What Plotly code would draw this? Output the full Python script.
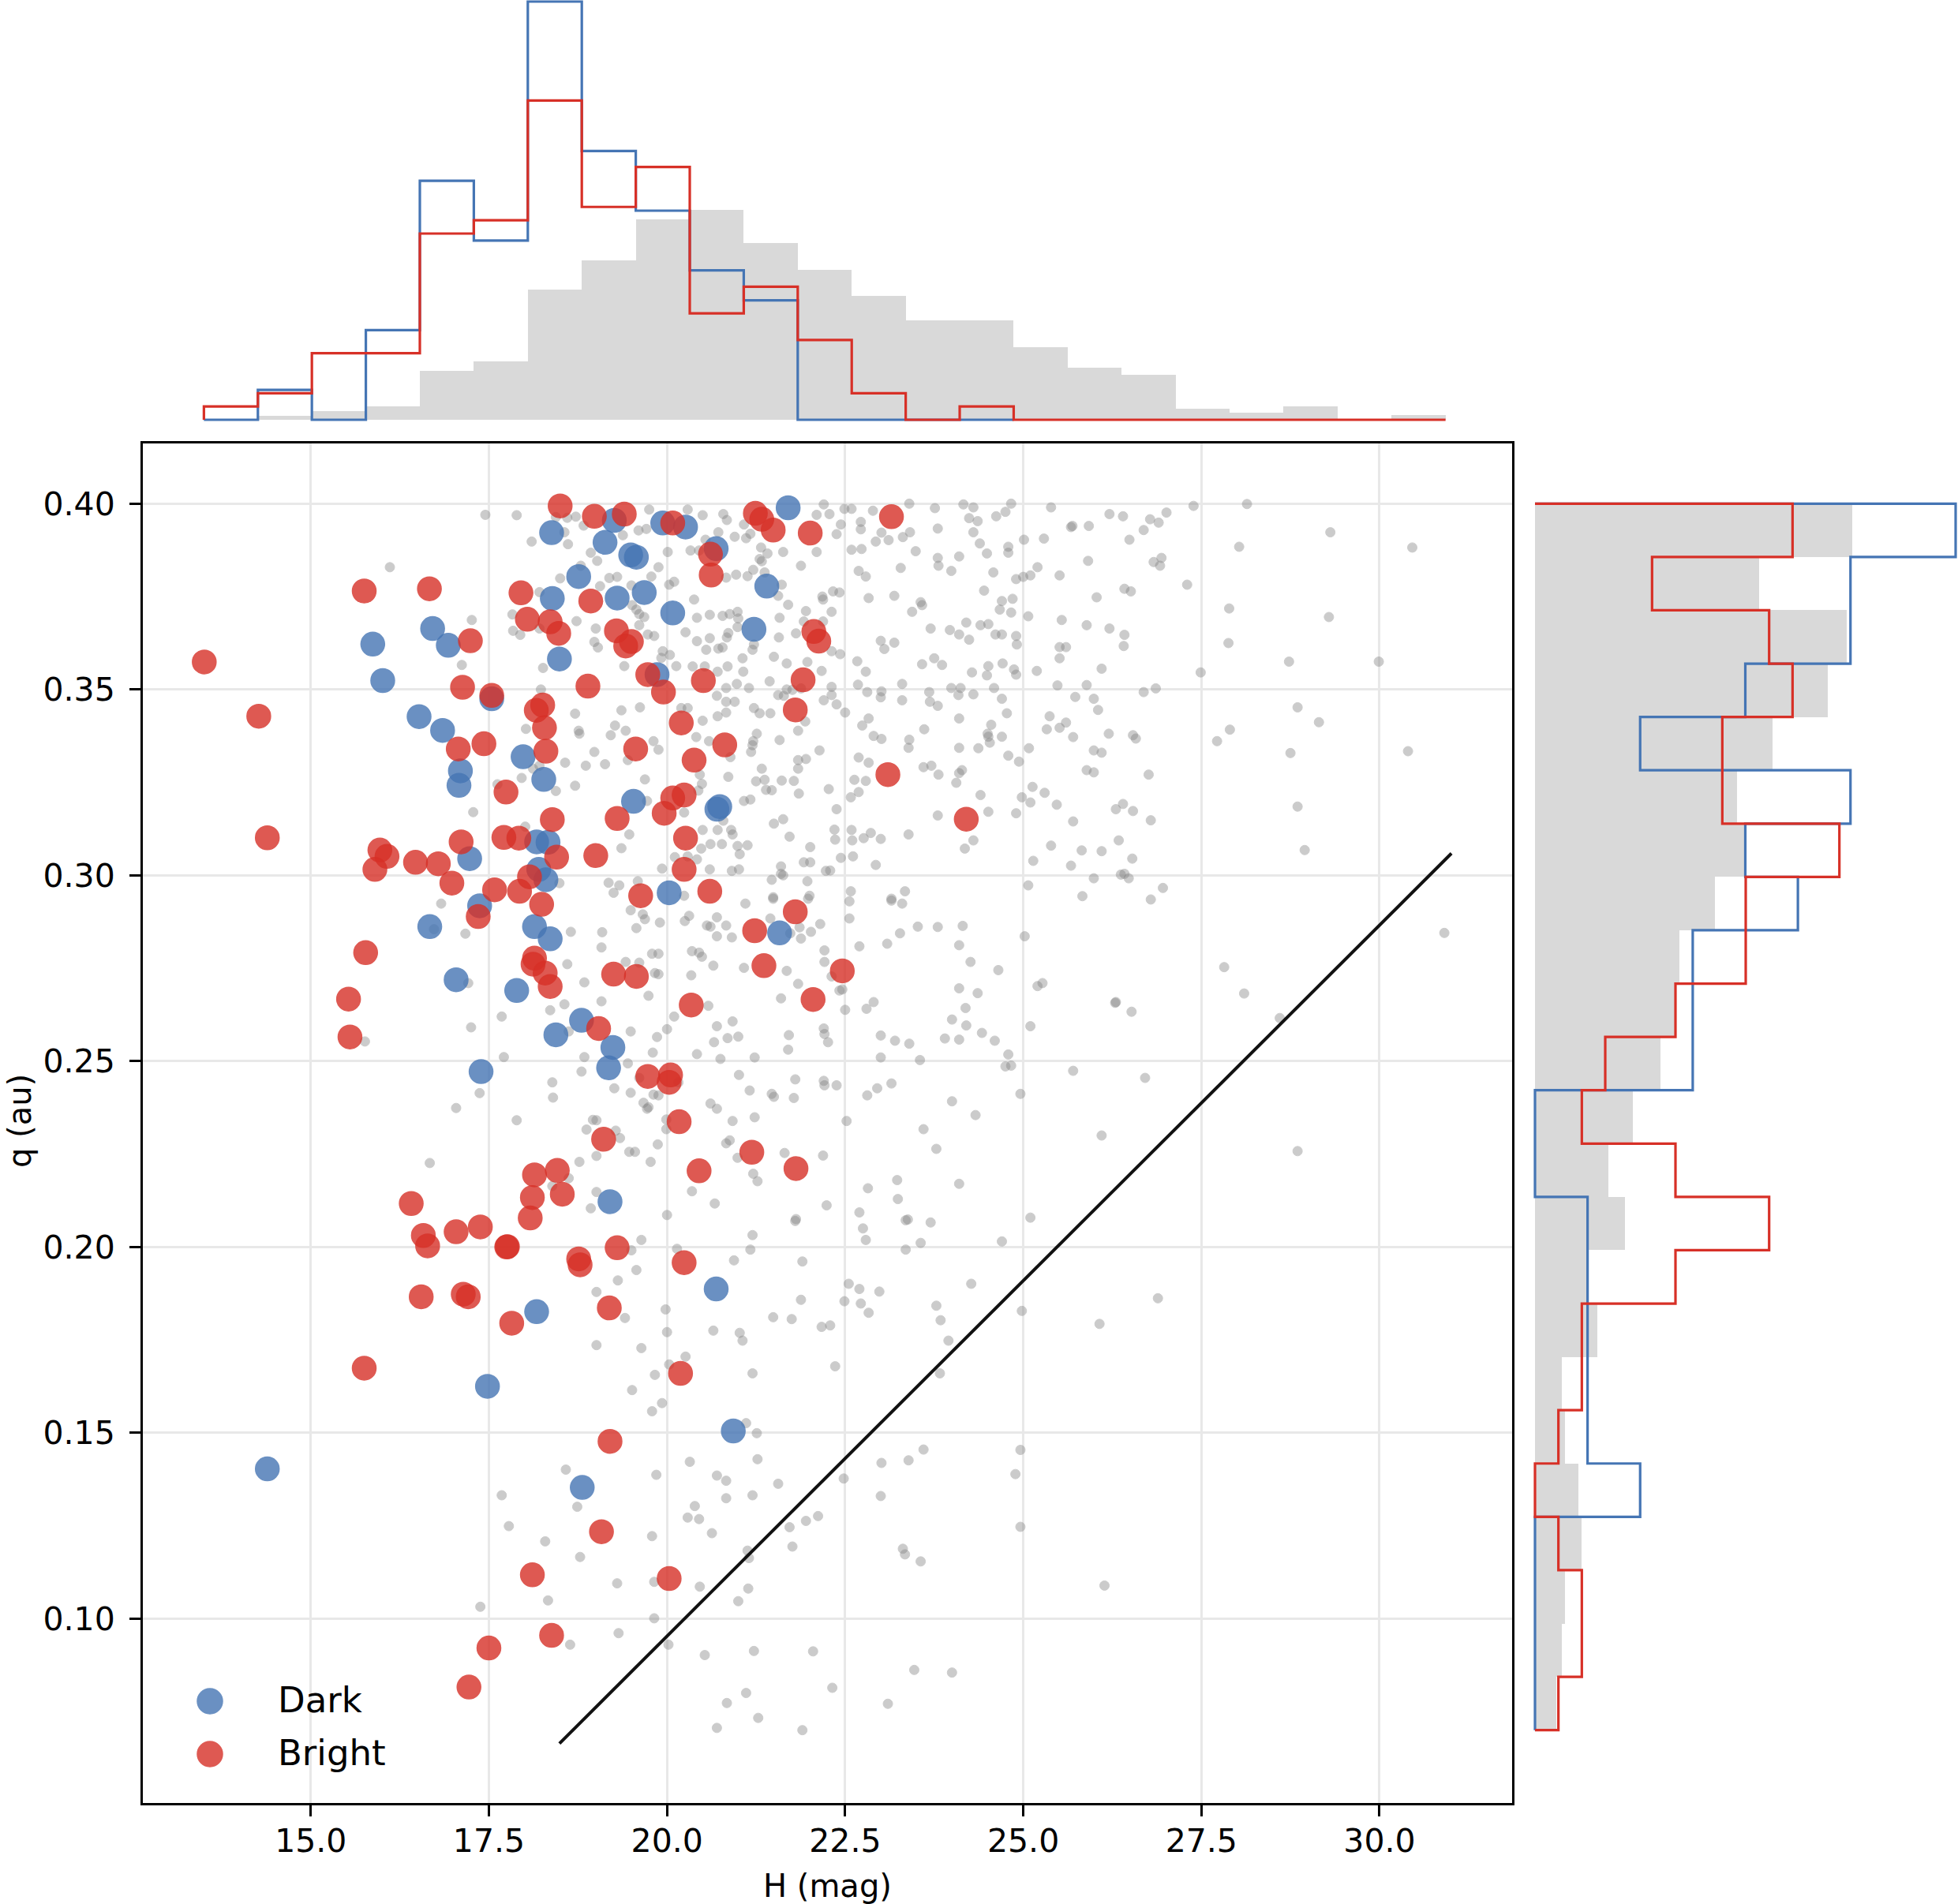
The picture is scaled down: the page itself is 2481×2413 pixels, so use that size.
import numpy as np
import plotly.graph_objects as go

W, HT = 2481, 2413
BLUE, RED, GREY, BAR = "#4575b4", "#d73027", "#808080", "#d9d9d9"
FONT = "DejaVu Sans"

# ---------------- data (H in mag, q in au) ----------------
dark_points = [
    (18.38, 0.3922), (19.13, 0.3896), (18.76, 0.3804), (18.39, 0.3745), (16.71, 0.3664), (16.93, 0.3619),
    (15.87, 0.3622), (16.01, 0.3524), (18.49, 0.3582), (17.54, 0.3475), (16.52, 0.3427), (16.85, 0.3390),
    (17.98, 0.3319), (18.27, 0.3258), (17.10, 0.3281), (17.08, 0.3242), (18.17, 0.3090), (18.33, 0.3089),
    (17.23, 0.3045), (18.20, 0.3016), (18.30, 0.2988), (19.26, 0.3955), (19.94, 0.3948), (20.26, 0.3937),
    (21.70, 0.3989), (20.69, 0.3879), (19.49, 0.3862), (19.57, 0.3856), (19.30, 0.3746), (19.68, 0.3761),
    (21.40, 0.3778), (20.08, 0.3706), (21.22, 0.3662), (19.86, 0.3540), (19.53, 0.3199), (20.70, 0.3178),
    (20.74, 0.3185), (20.03, 0.2953), (17.37, 0.2918), (16.67, 0.2862), (18.14, 0.2862), (18.36, 0.2829),
    (17.04, 0.2719), (17.89, 0.2690), (18.80, 0.2610), (18.44, 0.2571), (17.39, 0.2472), (18.17, 0.1826),
    (21.58, 0.2845), (19.24, 0.2537), (19.18, 0.2482), (19.20, 0.2122), (20.69, 0.1887), (14.39, 0.1403),
    (17.48, 0.1625), (18.81, 0.1353), (20.93, 0.1505),
]

bright_points = [
    (18.50, 0.3994), (18.98, 0.3966), (15.75, 0.3765), (16.665, 0.3771), (17.95, 0.3760), (18.93, 0.3738),
    (18.04, 0.3689), (18.36, 0.3682), (18.48, 0.3651), (17.24, 0.3631), (13.505, 0.3574), (17.13, 0.3506),
    (17.54, 0.3484), (18.89, 0.3509), (18.255, 0.3458), (18.165, 0.3444), (18.28, 0.3397), (14.27, 0.3428),
    (17.07, 0.3340), (17.43, 0.3354), (18.30, 0.3334), (17.74, 0.3224), (18.39, 0.3150), (14.39, 0.3101),
    (15.97, 0.3068), (16.07, 0.3051), (15.90, 0.3016), (16.47, 0.3035), (16.79, 0.3031), (17.11, 0.3090),
    (17.71, 0.3102), (17.92, 0.3100), (18.45, 0.3049), (19.00, 0.3053), (16.98, 0.2979), (17.58, 0.2961),
    (17.93, 0.2957), (18.07, 0.2996), (19.40, 0.3972), (20.08, 0.3948), (21.24, 0.3974), (21.33, 0.3958),
    (21.49, 0.3929), (22.01, 0.3921), (23.15, 0.3965), (20.61, 0.3864), (20.62, 0.3808), (19.29, 0.3658),
    (19.50, 0.3629), (19.42, 0.3617), (19.73, 0.3540), (19.95, 0.3493), (20.51, 0.3524), (22.06, 0.3656),
    (22.13, 0.3630), (21.91, 0.3526), (21.80, 0.3445), (20.20, 0.3410), (19.56, 0.3340), (20.81, 0.3351),
    (20.38, 0.3310), (23.10, 0.3271), (20.08, 0.3208), (20.24, 0.3216), (19.30, 0.3153), (19.96, 0.3167),
    (24.20, 0.3151), (20.26, 0.3100), (20.24, 0.3016), (19.63, 0.2945), (20.60, 0.2957), (18.24, 0.2922),
    (17.35, 0.2889), (15.77, 0.2792), (18.14, 0.2777), (18.12, 0.2761), (18.29, 0.2737), (18.36, 0.2701),
    (15.53, 0.2667), (15.55, 0.2565), (19.04, 0.2588), (18.14, 0.2194), (18.46, 0.2206), (18.11, 0.2133),
    (18.53, 0.2142), (18.08, 0.2078), (16.41, 0.2117), (16.58, 0.2031), (16.64, 0.2003), (17.04, 0.2041),
    (17.38, 0.2054), (17.76, 0.2001), (17.75, 0.2000), (18.76, 0.1968), (18.78, 0.1952), (16.55, 0.1866),
    (17.14, 0.1873), (17.21, 0.1866), (17.82, 0.1795), (21.80, 0.2902), (21.23, 0.2851), (21.36, 0.2757),
    (22.46, 0.2743), (22.05, 0.2666), (19.25, 0.2734), (19.57, 0.2728), (20.34, 0.2651), (19.73, 0.2459),
    (20.05, 0.2463), (20.03, 0.2443), (19.11, 0.2290), (20.17, 0.2337), (21.19, 0.2255), (20.45, 0.2205),
    (21.81, 0.2211), (19.30, 0.1998), (20.24, 0.1958), (19.19, 0.1836), (15.75, 0.1674), (17.50, 0.0921),
    (17.22, 0.0816), (18.11, 0.1118), (18.38, 0.0955), (20.19, 0.1660), (19.20, 0.1477), (19.08, 0.1234),
    (20.03, 0.1108),
]

grey_points = [
    (17.45,0.3970),(17.89,0.3969),(18.10,0.3898),(18.61,0.3891),(18.44,0.3964),(18.60,0.3962),(18.72,0.3965),(18.83,0.3941),(18.56,0.3923),(16.11,0.3829),(18.93,0.3868),(19.02,0.3846),(18.79,0.3833),(18.50,0.3799),(18.21,0.3762),(17.26,0.3687),(17.83,0.3702),(17.84,0.3658),(17.94,0.3647),(18.21,0.3664),(18.73,0.3684),(19.00,0.3664),(18.98,0.3628),(19.03,0.3613),(17.12,0.3566),(18.26,0.3558),(18.23,0.3500),(18.71,0.3435),(18.02,0.3394),(18.76,0.3389),(18.77,0.3381),(18.98,0.3332),(18.86,0.3295),(18.57,0.3303),(18.12,0.3287),(18.21,0.3295),(17.96,0.3262),(17.62,0.3245),(18.44,0.3227),(18.71,0.3241),(17.28,0.3170),(18.01,0.3131),(18.49,0.2979),
    (19.75,0.3984),(20.29,0.3984),(20.50,0.3969),(20.79,0.3972),(20.84,0.3956),(21.08,0.3944),(22.20,0.3998),(22.10,0.3970),(22.28,0.3972),(22.49,0.3986),(22.59,0.3986),(22.89,0.3981),(23.40,0.4000),(23.76,0.3988),(24.16,0.3998),(24.30,0.3990),(24.24,0.3961),(24.36,0.3953),(24.62,0.3966),(24.75,0.3978),(24.83,0.4000),(25.39,0.3990),
    (19.60,0.3928),(19.71,0.3932),(19.38,0.3915),(20.54,0.3903),(20.72,0.3923),(20.95,0.3911),(21.11,0.3907),(21.17,0.3919),(22.44,0.3944),(22.72,0.3951),(22.72,0.3931),(22.38,0.3918),(22.93,0.3898),(23.01,0.3922),(23.11,0.3902),(23.31,0.3910),(23.41,0.3923),(23.80,0.3933),(24.30,0.3923),(25.01,0.3903),(25.29,0.3906),
    (20.01,0.3870),(20.33,0.3874),(20.45,0.3874),(21.32,0.3882),(21.41,0.3866),(21.63,0.3870),(22.10,0.3870),(22.59,0.3876),(22.73,0.3878),(23.49,0.3872),(24.39,0.3893),(24.49,0.3866),(24.79,0.3884),(24.79,0.3868),(23.80,0.3854),(24.10,0.3858),
    (21.30,0.3851),(21.33,0.3845),(19.88,0.3829),(19.78,0.3804),(21.21,0.3822),(20.97,0.3809),(21.13,0.3805),(20.83,0.3801),(21.37,0.3815),(19.19,0.3800),(19.30,0.3803),(21.88,0.3833),(22.69,0.3819),(22.79,0.3804),(23.28,0.3827),(23.81,0.3833),(23.99,0.3819),(24.58,0.3815),(24.90,0.3797),(25.00,0.3803),(25.10,0.3807),(25.20,0.3829),
    (19.06,0.3778),(20.03,0.3782),(20.10,0.3790),(19.50,0.3780),(21.61,0.3782),(21.56,0.3752),(21.70,0.3728),(22.18,0.3750),(22.19,0.3742),(22.33,0.3764),(22.42,0.3761),(22.83,0.3746),(23.19,0.3752),(23.56,0.3735),(23.58,0.3727),(24.45,0.3766),(24.85,0.3744),(24.70,0.3738),
    (19.51,0.3727),(19.57,0.3715),(19.61,0.3703),(19.68,0.3695),(20.38,0.3742),(20.42,0.3693),(20.60,0.3701),(20.78,0.3698),(20.88,0.3703),(20.99,0.3709),(21.00,0.3691),(21.58,0.3693),(21.95,0.3711),(22.31,0.3709),(23.44,0.3709),(24.67,0.3715),(24.83,0.3707),(25.07,0.3697),
    (19.61,0.3673),(19.73,0.3648),(19.82,0.3644),(20.26,0.3654),(20.42,0.3630),(20.60,0.3638),(20.86,0.3652),(20.84,0.3640),(20.99,0.3668),(20.78,0.3613),(20.72,0.3610),(20.55,0.3607),(21.57,0.3640),(21.81,0.3651),(21.92,0.3683),(22.19,0.3683),(23.00,0.3631),(23.05,0.3609),(23.19,0.3626),(23.70,0.3664),(23.97,0.3660),(24.10,0.3648),(24.20,0.3680),(24.24,0.3634),(24.40,0.3673),(24.51,0.3676),(24.61,0.3648),(24.70,0.3648),(24.90,0.3644),(24.91,0.3621),
    (19.94,0.3603),(19.92,0.3585),(20.04,0.3593),(19.40,0.3563),(20.13,0.3563),(20.36,0.3562),(20.53,0.3562),(20.71,0.3548),(20.85,0.3562),(21.06,0.3584),(21.07,0.3548),(21.20,0.3607),(21.22,0.3621),(21.50,0.3588),(21.68,0.3570),(21.97,0.3574),(22.17,0.3550),(22.31,0.3603),(22.43,0.3595),(22.67,0.3576),(22.79,0.3548),(23.58,0.3568),(23.75,0.3584),(23.86,0.3566),(24.28,0.3546),(24.51,0.3563),(24.49,0.3538),(24.71,0.3570),(24.87,0.3554),(24.90,0.3540),(25.19,0.3550),
    (20.70,0.3483),(20.83,0.3504),(20.98,0.3515),(21.15,0.3504),(21.44,0.3522),(21.56,0.3485),(21.64,0.3483),(21.68,0.3500),(21.76,0.3499),(21.88,0.3503),(22.20,0.3471),(22.31,0.3507),(22.31,0.3485),(22.68,0.3513),(22.81,0.3493),(23.01,0.3495),(23.00,0.3479),(23.30,0.3515),(23.30,0.3471),(23.68,0.3493),(23.69,0.3467),(23.80,0.3456),(23.99,0.3504),(24.09,0.3485),(24.12,0.3504),(24.30,0.3487),(24.59,0.3504),(24.70,0.3475),(25.48,0.3511),
    (19.36,0.3444),(19.62,0.3452),(19.27,0.3403),(19.42,0.3389),(20.20,0.3450),(20.29,0.3450),(20.50,0.3416),(20.83,0.3467),(20.95,0.3467),(20.71,0.3428),(20.83,0.3438),(21.22,0.3450),(21.30,0.3436),(21.45,0.3436),(21.94,0.3414),(21.84,0.3389),(22.38,0.3460),(22.50,0.3438),(22.74,0.3403),(22.83,0.3422),(23.61,0.3393),(24.10,0.3422),(24.55,0.3405),(24.50,0.3381),(24.77,0.3436),(25.33,0.3393),(25.37,0.3428),
    (19.21,0.3377),(19.81,0.3361),(19.88,0.3338),(20.41,0.3372),(20.59,0.3361),(20.89,0.3318),(21.18,0.3332),(21.20,0.3350),(21.21,0.3361),(21.26,0.3381),(21.58,0.3364),(21.84,0.3310),(21.95,0.3313),(22.14,0.3336),(22.90,0.3375),(23.01,0.3367),(22.69,0.3317),(22.83,0.3303),(23.40,0.3365),(23.39,0.3343),(24.10,0.3343),(24.37,0.3342),(24.53,0.3357),(24.51,0.3373),(24.70,0.3373),(24.79,0.3322),(24.94,0.3306),(25.08,0.3342),(19.13,0.3299),(19.45,0.3310),
    (19.69,0.3258),(20.46,0.3271),(20.49,0.3246),(20.86,0.3265),(21.25,0.3253),(21.33,0.3287),(21.37,0.3257),(21.61,0.3255),(21.78,0.3254),(21.84,0.3287),(21.39,0.3230),(21.47,0.3229),(22.27,0.3232),(22.63,0.3257),(22.79,0.3254),(22.58,0.3210),(22.69,0.3224),(23.60,0.3291),(23.71,0.3295),(23.81,0.3271),(24.06,0.3249),(24.14,0.3283),(24.10,0.3275),(25.13,0.3238),(25.30,0.3222),(24.98,0.3210),(25.10,0.3196),
    (19.72,0.3200),(20.24,0.3169),(20.44,0.3228),(20.79,0.3147),(21.08,0.3200),(21.17,0.3204),(21.85,0.3220),(22.38,0.3178),(23.80,0.3161),(24.40,0.3216),(24.51,0.3171),(24.90,0.3167),(25.47,0.3190),
    (19.47,0.3110),(19.36,0.3073),(20.50,0.3122),(20.71,0.3122),(20.90,0.3122),(20.92,0.3110),(20.48,0.3072),(20.61,0.3084),(20.77,0.3084),(20.99,0.3079),(21.13,0.3081),(21.50,0.3139),(21.63,0.3151),(21.72,0.3104),(22.01,0.3076),(22.35,0.3123),(22.36,0.3096),(22.59,0.3122),(22.60,0.3094),(22.76,0.3100),(22.86,0.3114),(23.00,0.3098),(23.39,0.3110),(24.18,0.3072),(24.30,0.3094),(25.39,0.3080),
    (19.93,0.3018),(20.11,0.3049),(20.29,0.3051),(20.42,0.3043),(20.60,0.3016),(20.91,0.3012),(21.01,0.3016),(21.02,0.3057),(21.60,0.3024),(21.60,0.3004),(21.92,0.3035),(22.01,0.3035),(22.23,0.3012),(22.29,0.3013),(22.44,0.3047),(22.61,0.3051),(22.93,0.3028),(25.14,0.3039),
    (19.18,0.2980),(19.33,0.2973),(19.25,0.2953),(19.59,0.2984),(20.24,0.2945),(21.47,0.2988),(21.63,0.3000),(21.97,0.2984),(21.49,0.2941),(22.00,0.2945),(22.58,0.2957),(23.34,0.2957),(25.07,0.2973),(23.15,0.2937),
    (25.67,0.3937),(25.69,0.3940),(25.92,0.3940),(26.21,0.3972),(26.40,0.3966),(26.78,0.3958),(26.90,0.3949),(27.01,0.3976),(26.69,0.3929),(26.49,0.3903),(27.39,0.3994),(28.14,0.3999),(29.31,0.3923),(28.03,0.3884),(30.46,0.3882),(25.91,0.3846),(26.83,0.3843),(26.94,0.3854),(26.92,0.3833),(25.51,0.3807),(27.30,0.3782),(26.42,0.3771),(26.51,0.3764),(26.03,0.3748),(27.89,0.3718),(29.29,0.3695),(25.54,0.3687),(25.89,0.3673),(26.21,0.3664),(26.42,0.3647),(26.41,0.3617),(25.51,0.3614),(25.60,0.3614),(27.88,0.3625),(25.51,0.3584),(26.10,0.3556),(28.73,0.3575),(29.99,0.3575),(27.49,0.3546),(25.89,0.3512),(25.73,0.3480),(25.99,0.3475),(26.05,0.3445),(26.69,0.3493),(26.86,0.3503),(28.85,0.3452),(29.15,0.3412),(25.60,0.3411),(25.51,0.3397),(25.70,0.3372),(26.20,0.3381),(26.54,0.3377),(26.58,0.3368),(27.90,0.3392),(27.72,0.3361),(28.75,0.3329),(30.40,0.3334),(25.99,0.3336),(26.10,0.3330),(25.89,0.3283),(25.99,0.3277),(26.76,0.3271),(26.30,0.3178),(26.40,0.3192),(26.54,0.3173),(25.70,0.3145),(26.79,0.3148),(28.85,0.3185),(26.34,0.3094),(25.82,0.3067),(26.10,0.3065),(26.53,0.3045),(25.67,0.3026),(28.95,0.3068),(25.99,0.2992),(26.37,0.3002),(26.42,0.3004),(26.48,0.2992),(26.96,0.2966),(25.83,0.2944),(26.79,0.2935),
    (16.83,0.2924),(17.17,0.2843),(16.73,0.2855),(18.65,0.2848),(18.60,0.2761),(18.84,0.2712),(17.21,0.2710),(18.56,0.2653),(18.36,0.2637),(17.68,0.2620),(17.25,0.2591),(18.62,0.2580),(15.76,0.2553),(17.71,0.2511),(18.84,0.2511),(18.80,0.2472),(18.39,0.2443),(18.40,0.2402),(17.37,0.2414),(17.04,0.2374),(17.89,0.2341),(18.96,0.2342),(19.01,0.2341),(18.87,0.2316),(19.01,0.2245),(16.67,0.2226),(18.77,0.2229),(18.62,0.2185),(18.39,0.2164),(19.01,0.2148),(18.93,0.2104),(19.01,0.1879),(19.01,0.1736),
    (21.10,0.2924),(21.49,0.2937),(21.98,0.2937),(22.56,0.2930),(22.56,0.2884),(23.15,0.2932),(23.30,0.2924),(19.49,0.2906),(19.66,0.2895),(19.69,0.2882),(19.57,0.2858),(19.90,0.2873),(20.25,0.2877),(20.31,0.2891),(20.70,0.2887),(20.56,0.2865),(20.61,0.2862),(20.83,0.2865),(20.70,0.2836),(20.91,0.2833),(21.45,0.2884),(21.86,0.2860),(21.88,0.2830),(22.02,0.2848),(22.15,0.2869),(21.73,0.2844),(19.09,0.2847),(19.08,0.2806),(19.79,0.2789),(19.88,0.2789),(19.42,0.2767),(19.61,0.2765),(19.83,0.2737),(19.88,0.2734),(20.35,0.2796),(20.45,0.2792),(20.49,0.2781),(20.65,0.2757),(20.34,0.2731),(21.08,0.2751),(21.68,0.2743),(21.84,0.2708),(22.21,0.2798),(22.21,0.2767),(22.31,0.2728),(22.42,0.2690),(22.46,0.2693),(22.50,0.2638),(22.70,0.2809),(23.09,0.2816),(23.27,0.2844),(23.52,0.2862),(23.80,0.2861),(24.15,0.2864),(24.10,0.2812),(24.26,0.2767),(24.65,0.2745),(24.10,0.2696),(24.36,0.2683),(24.19,0.2643),(25.02,0.2836),(25.20,0.2702),(25.27,0.2710),(22.80,0.2641),(22.90,0.2659),(19.08,0.2661),(19.74,0.2676),(20.58,0.2649),(21.60,0.2669),(24.00,0.2612),(24.20,0.2596),(23.90,0.2561),(24.10,0.2558),(24.42,0.2576),(24.60,0.2555),(25.10,0.2594),(23.00,0.2569),(23.20,0.2555),(23.40,0.2547),(23.00,0.2510),(23.55,0.2503),(24.79,0.2518),(24.75,0.2486),(24.83,0.2488),
    (19.49,0.2580),(19.86,0.2565),(20.00,0.2586),(20.10,0.2620),(20.70,0.2594),(20.92,0.2607),(20.85,0.2562),(21.00,0.2566),(20.66,0.2551),(20.42,0.2519),(20.75,0.2506),(21.23,0.2510),(21.71,0.2570),(21.70,0.2531),(22.20,0.2588),(22.21,0.2573),(22.26,0.2551),(19.80,0.2523),(19.45,0.2494),(19.26,0.2427),(19.49,0.2415),(19.61,0.2455),(19.81,0.2410),(19.88,0.2408),(20.16,0.2443),(19.67,0.2388),(19.74,0.2376),(19.72,0.2372),(21.01,0.2463),(21.16,0.2421),(21.47,0.2412),(21.50,0.2404),(21.78,0.2401),(21.80,0.2451),(22.20,0.2447),(22.21,0.2435),(22.38,0.2435),(22.81,0.2408),(22.95,0.2427),(23.15,0.2440),(24.00,0.2392),(24.33,0.2355),(24.96,0.2412),(20.61,0.2386),(20.70,0.2372),(20.92,0.2339),(21.23,0.2349),(19.99,0.2343),(19.99,0.2317),(19.28,0.2313),(19.34,0.2293),(19.47,0.2256),(19.55,0.2256),(19.77,0.2229),(19.87,0.2276),(20.83,0.2279),(20.88,0.2287),(20.99,0.2240),(21.21,0.2197),(21.27,0.2177),(21.65,0.2253),(22.19,0.2246),(22.52,0.2339),(23.60,0.2317),(23.78,0.2264),(22.82,0.2158),(23.23,0.2180),(23.24,0.2129),(24.10,0.2170),(20.35,0.2150),(20.67,0.2117),(20.00,0.2086),(22.24,0.2112),(22.70,0.2093),(22.75,0.2050),(22.79,0.2019),(21.80,0.2070),(21.81,0.2075),(23.35,0.2072),(23.38,0.2074),(23.70,0.2066),(25.10,0.2079),(21.20,0.2032),(21.17,0.1993),(19.64,0.2019),(19.50,0.1991),(20.14,0.1995),(20.94,0.1964),(21.90,0.1961),(23.35,0.1993),(23.56,0.2011),(24.70,0.2015),(19.57,0.1938),(19.31,0.1910),(22.55,0.1901),(22.70,0.1887),(22.98,0.1880),(22.49,0.1854),(22.72,0.1848),(22.83,0.1823),(21.88,0.1858),(24.27,0.1901),(23.78,0.1842),(23.84,0.1803),(24.98,0.1828),(19.41,0.1809),(19.98,0.1832),(20.00,0.1771),(20.65,0.1775),(21.02,0.1769),(21.06,0.1748),(21.49,0.1811),(21.75,0.1806),(22.17,0.1785),(22.29,0.1789),(19.64,0.1728),(23.95,0.1748),
    (30.91,0.2845),(27.82,0.2753),(28.10,0.2682),(26.29,0.2657),(26.30,0.2659),(26.52,0.2633),(28.60,0.2616),(25.70,0.2474),(26.71,0.2455),(26.10,0.2300),(28.85,0.2258),(26.89,0.1862),(26.07,0.1793),
    (18.58,0.1401),(17.68,0.1332),(18.74,0.1301),(17.78,0.1249),(18.29,0.1208),(18.78,0.1166),(18.33,0.1049),(17.38,0.1032),(18.64,0.0930),
    (20.26,0.1705),(20.03,0.1684),(19.83,0.1656),(21.20,0.1660),(22.36,0.1679),(23.83,0.1660),(19.51,0.1615),(19.93,0.1580),(19.79,0.1558),(21.11,0.1526),(21.26,0.1499),(20.32,0.1422),(21.27,0.1429),(19.85,0.1387),(20.70,0.1385),(20.83,0.1371),(20.83,0.1324),(21.20,0.1332),(21.56,0.1363),(20.39,0.1303),(20.29,0.1272),(20.45,0.1268),(20.63,0.1230),(19.79,0.1222),(21.72,0.1246),(21.95,0.1263),(22.12,0.1276),(21.76,0.1194),(21.13,0.1183),(21.15,0.1163),(22.48,0.1377),(23.01,0.1419),(23.39,0.1426),(23.60,0.1455),(23.00,0.1330),(24.96,0.1454),(24.89,0.1389),(24.96,0.1247),(23.31,0.1188),(23.34,0.1173),(23.56,0.1154),(19.30,0.1095),(19.82,0.1099),(20.46,0.1086),(21.14,0.1081),(21.00,0.1047),(19.82,0.1001),(19.32,0.0961),(20.02,0.0930),(20.53,0.0902),(21.22,0.0913),(22.05,0.0912),(23.47,0.0862),(24.00,0.0855),(22.32,0.0814),(21.11,0.0800),(20.84,0.0773),(21.28,0.0733),(20.70,0.0706),(21.90,0.0700),(23.10,0.0771),
    (26.14,0.1089),
]

# reference line
line_H = [18.49, 31.01]
line_q = [0.0664, 0.3059]

# marginal histograms (23 bins each)
H_bin_range = (13.5, 30.927)
q_bin_range = (0.07, 0.40)
dark_H_counts = [0, 1, 0, 3, 8, 6, 14, 9, 7, 5, 4, 0, 0, 0, 0]
bright_H_counts = [1, 2, 5, 5, 14, 15, 24, 16, 19, 8, 10, 6, 2, 0, 1, 0, 0, 0, 0, 0, 0, 0, 0]
all_H_density = [0.0, 0.0032, 0.0068, 0.0104, 0.0382, 0.0455, 0.1011, 0.1238, 0.1551, 0.1625, 0.1372,
                 0.1164, 0.0962, 0.0769, 0.0769, 0.0563, 0.0406, 0.0346, 0.0083, 0.0057, 0.0104, 0.0, 0.0034]
dark_q_counts = [0, 0, 0, 0, 2, 1, 1, 1, 1, 1, 0, 0, 3, 3, 3, 5, 4, 6, 2, 4, 6, 6, 8]
bright_q_counts = [1, 2, 2, 1, 0, 1, 2, 2, 6, 10, 6, 2, 3, 6, 9, 9, 13, 8, 8, 11, 10, 5, 11]
all_q_density = [0.496, 0.631, 0.689, 1.081, 1.010, 0.689, 0.631, 1.448, 1.223, 2.092, 1.712, 2.278,
                 2.922, 3.263, 3.359, 4.190, 4.872, 4.698, 5.528, 6.802, 7.253, 5.206, 7.382]

# ---------------- derived ----------------
NB = 23
H_edges = np.linspace(H_bin_range[0], H_bin_range[1], NB + 1)
q_edges = np.linspace(q_bin_range[0], q_bin_range[1], NB + 1)
wH = H_edges[1] - H_edges[0]
wq = q_edges[1] - q_edges[0]


def density(counts, w):
    c = np.array(counts, dtype=float)
    return c / (c.sum() * w)


def step_xy(edges, heights):
    n = len(heights)
    xs = [edges[0]] + list(edges[: n + 1])
    ys = [0.0] + list(heights) + [0.0]
    return xs, ys


def px_x(p):
    return p / W


def px_y(p):
    return 1 - p / HT


fig = go.Figure()

# ---- main scatter (xaxis / yaxis) ----
gH, gq = zip(*grey_points)
dH, dq = zip(*dark_points)
bH, bq = zip(*bright_points)
fig.add_trace(go.Scatter(x=gH, y=gq, mode="markers", showlegend=False,
                         marker=dict(size=12, color=GREY, opacity=0.4, line=dict(color=GREY, width=1))))
fig.add_trace(go.Scatter(x=dH, y=dq, mode="markers", name="Dark", showlegend=False,
                         marker=dict(size=30, color=BLUE, opacity=0.8, line=dict(color=BLUE, width=1.5))))
fig.add_trace(go.Scatter(x=bH, y=bq, mode="markers", name="Bright", showlegend=False,
                         marker=dict(size=30, color=RED, opacity=0.8, line=dict(color=RED, width=1.5))))
fig.add_trace(go.Scatter(x=line_H, y=line_q, mode="lines", showlegend=False,
                         line=dict(color="#111111", width=4)))

# ---- top histogram (xaxis2 / yaxis2) ----
fig.add_trace(go.Bar(x=H_edges[:-1] + wH / 2, y=all_H_density, width=wH, marker=dict(color=BAR, line=dict(width=0)),
                     xaxis="x2", yaxis="y2", showlegend=False))
dH_den = density(dark_H_counts, wH)
bH_den = density(bright_H_counts, wH)
xs, ys = step_xy(H_edges, dH_den)
fig.add_trace(go.Scatter(x=xs, y=ys, mode="lines", line=dict(color=BLUE, width=3.2, shape="hv"),
                         xaxis="x2", yaxis="y2", showlegend=False))
xs, ys = step_xy(H_edges, bH_den)
fig.add_trace(go.Scatter(x=xs, y=ys, mode="lines", line=dict(color=RED, width=3.2, shape="hv"),
                         xaxis="x2", yaxis="y2", showlegend=False))

# ---- right histogram (xaxis3 / yaxis3) ----
fig.add_trace(go.Bar(y=q_edges[:-1] + wq / 2, x=all_q_density, width=wq, orientation="h",
                     marker=dict(color=BAR, line=dict(width=0)), xaxis="x3", yaxis="y3", showlegend=False))
dq_den = density(dark_q_counts, wq)
bq_den = density(bright_q_counts, wq)
ys_, xs_ = step_xy(q_edges, dq_den)
fig.add_trace(go.Scatter(x=xs_, y=ys_, mode="lines", line=dict(color=BLUE, width=3.2, shape="vh"),
                         xaxis="x3", yaxis="y3", showlegend=False))
ys_, xs_ = step_xy(q_edges, bq_den)
fig.add_trace(go.Scatter(x=xs_, y=ys_, mode="lines", line=dict(color=RED, width=3.2, shape="vh"),
                         xaxis="x3", yaxis="y3", showlegend=False))

# ---- layout ----
main_x_dom = [px_x(181), px_x(1916)]
main_y_dom = [px_y(2285), px_y(562)]
tickfont = dict(family=FONT, size=41, color="black")

peakH = dH_den.max()
sH = peakH / 530.0
peakq = dq_den.max()
sq = peakq / 533.0

axis_common = dict(showline=True, mirror=True, linecolor="black", linewidth=3, ticks="outside",
                   ticklen=14, tickwidth=3, tickcolor="black", showgrid=True, gridcolor="#e8e8e8",
                   gridwidth=2.5, zeroline=False, tickfont=tickfont, automargin=False)

fig.update_layout(
    width=W, height=HT, paper_bgcolor="white", plot_bgcolor="white",
    margin=dict(l=0, r=0, t=0, b=0, pad=0), showlegend=False,
    font=dict(family=FONT, color="black"),
    xaxis=dict(domain=main_x_dom, range=[12.643, 31.861], tick0=15, dtick=2.5, tickformat=".1f",
               anchor="y", ticklabelstandoff=-4, **axis_common),
    yaxis=dict(domain=main_y_dom, range=[0.0504, 0.4162], tick0=0, dtick=0.05, tickformat=".2f",
               anchor="x", ticklabelstandoff=10, **axis_common),
    xaxis2=dict(domain=main_x_dom, matches="x", anchor="y2", visible=False),
    yaxis2=dict(domain=[px_y(537), 1.0], range=[-5 * sH, peakH + 2 * sH], anchor="x2", visible=False),
    xaxis3=dict(domain=[px_x(1940), 1.0], range=[-5 * sq, peakq + 3 * sq], anchor="y3", visible=False),
    yaxis3=dict(domain=main_y_dom, matches="y", anchor="x3", visible=False),
    bargap=0,
)

# axis titles
fig.add_annotation(text="H (mag)", x=px_x(1048), y=px_y(2390), xref="paper", yref="paper",
                   xanchor="center", yanchor="middle", showarrow=False,
                   font=dict(family=FONT, size=40, color="black"))
fig.add_annotation(text="q (au)", x=px_x(25), y=px_y(1421), xref="paper", yref="paper",
                   xanchor="center", yanchor="middle", showarrow=False, textangle=-90,
                   font=dict(family=FONT, size=40, color="black"))

# legend (manual, inside lower-left of main axes)
for label, color, cy in [("Dark", BLUE, 2156), ("Bright", RED, 2223)]:
    r = 16
    fig.add_shape(type="circle", xref="paper", yref="paper",
                  x0=px_x(266 - r), x1=px_x(266 + r), y0=px_y(cy + r), y1=px_y(cy - r),
                  fillcolor=color, opacity=0.8, line=dict(color=color, width=1.5))
    fig.add_annotation(text=label, x=px_x(350), y=px_y(cy - 2), xref="paper", yref="paper",
                       xanchor="left", yanchor="middle", showarrow=False,
                       font=dict(family=FONT, size=45, color="black"))

fig.write_html("out.html", config={"displayModeBar": False})
